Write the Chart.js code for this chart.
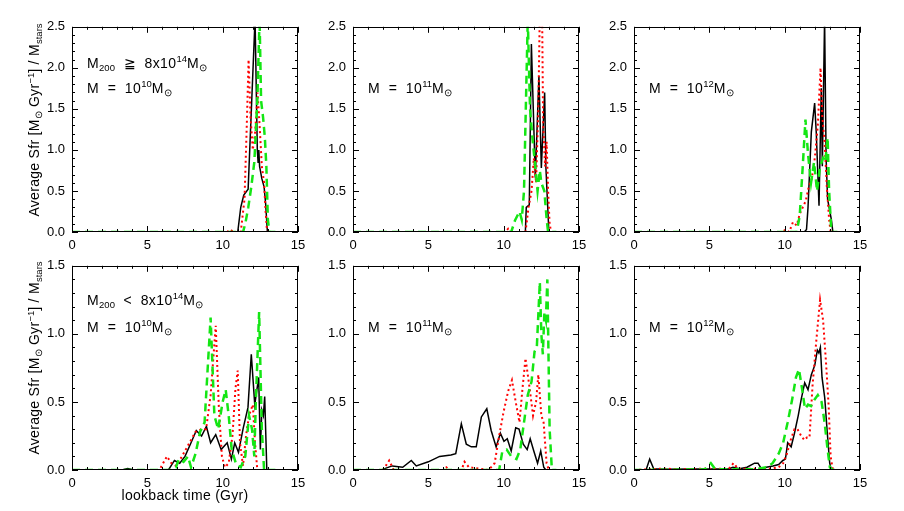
<!DOCTYPE html>
<html>
<head>
<meta charset="utf-8">
<script src="https://cdn.jsdelivr.net/npm/chart.js@4.4.0/dist/chart.umd.min.js"></script>
<style>
  body { margin: 0; background: #fff; }
  #fig { position: relative; width: 904px; height: 511px; overflow: hidden;
         font-family: "Liberation Sans", Arial, sans-serif; color: #000; }
  #fig canvas { position: absolute; }
  .lbl { position: absolute; font-size: 14px; line-height: 1; white-space: nowrap; letter-spacing: 0.4px; }
  .lbl sub, .lbl sup, .ttl sub, .ttl sup { line-height: 0; font-size: 9.5px; letter-spacing: 0; }
  .lbl sub { vertical-align: -3px; }
  .lbl sup { vertical-align: 6px; }
  .ttl { position: absolute; font-size: 14px; line-height: 16px; white-space: nowrap; text-align: center; letter-spacing: 0.3px; }
  .ytl { width: 240px; height: 16px; transform: rotate(-90deg); }
  .ttl sub { vertical-align: -3px; }
  .ttl sup { vertical-align: 5px; }
</style>
</head>
<body>
<div id="fig">
  <canvas id="c1"></canvas><canvas id="c2"></canvas><canvas id="c3"></canvas>
  <canvas id="c4"></canvas><canvas id="c5"></canvas><canvas id="c6"></canvas>

  <div class="ttl ytl" style="left:-86px; top:112px;">Average Sfr [M<sub>⊙</sub> Gyr<sup>−1</sup>] / M<sub>stars</sub></div>
  <div class="ttl ytl" style="left:-86px; top:350px;">Average Sfr [M<sub>⊙</sub> Gyr<sup>−1</sup>] / M<sub>stars</sub></div>
  <div class="ttl" style="left:95px; top:487px; width:180px;">lookback time (Gyr)</div>

  <div class="lbl" style="left:87px; top:56px;">M<sub>200</sub>&nbsp; ≧ &nbsp;8x10<sup>14</sup>M<sub>⊙</sub></div>
  <div class="lbl" style="left:87px; top:81px;">M &nbsp;= &nbsp;10<sup>10</sup>M<sub>⊙</sub></div>
  <div class="lbl" style="left:368px; top:81px;">M &nbsp;= &nbsp;10<sup>11</sup>M<sub>⊙</sub></div>
  <div class="lbl" style="left:649px; top:81px;">M &nbsp;= &nbsp;10<sup>12</sup>M<sub>⊙</sub></div>
  <div class="lbl" style="left:87px; top:293px;">M<sub>200</sub>&nbsp; &lt; &nbsp;8x10<sup>14</sup>M<sub>⊙</sub></div>
  <div class="lbl" style="left:87px; top:320px;">M &nbsp;= &nbsp;10<sup>10</sup>M<sub>⊙</sub></div>
  <div class="lbl" style="left:368px; top:320px;">M &nbsp;= &nbsp;10<sup>11</sup>M<sub>⊙</sub></div>
  <div class="lbl" style="left:649px; top:320px;">M &nbsp;= &nbsp;10<sup>12</sup>M<sub>⊙</sub></div>
</div>
<script>
  // [lookback time (Gyr), average sfr / Mstars]
  // top row: M200 >= 8x10^14 Msun
  var black10hi = [[0,0],[11.0,0],[11.2,0.3],[11.4,0.45],[11.69,0.52],[12.15,2.6],[12.3,1.0],[12.35,0.85],[12.4,1.0],[12.45,0.8],[12.6,0.65],[12.75,0.55],[12.85,0.35],[12.97,0],[13.5,0]];
  var red10hi = [[0,0],[10.3,0],[10.5,0.03],[10.7,0],[11.2,0],[11.45,0.4],[11.6,1.3],[11.72,2.1],[11.85,1.4],[12.0,1.0],[12.15,1.2],[12.32,1.7],[12.45,1.3],[12.6,0.8],[12.75,0.6],[12.85,0.25],[12.95,0],[13.5,0]];
  var green10hi = [[0,0],[11.35,0],[11.5,0.1],[11.7,0.3],[11.9,0.55],[12.1,0.85],[12.3,1.6],[12.45,2.6],[12.55,1.6],[12.68,1.4],[12.8,1.15],[12.9,0.8],[13.0,0.15],[13.1,0],[13.5,0]];

  var black11hi = [[0,0],[11.44,0],[11.5,0.3],[11.7,0.33],[11.84,2.29],[12.1,0.66],[12.34,1.9],[12.5,0.78],[12.72,1.7],[12.8,0.8],[13.0,0],[13.5,0]];
  var red11hi = [[0,0],[10.1,0],[10.3,0.04],[10.5,0],[11.45,0],[11.65,0.3],[11.85,0.5],[12.0,0.9],[12.15,0.6],[12.3,1.5],[12.4,2.7],[12.55,2.7],[12.62,1.3],[12.75,0.8],[12.85,1.1],[12.95,0.5],[13.05,0.1],[13.15,0],[13.5,0]];
  var green11hi = [[0,0],[10.5,0],[10.75,0.14],[11.05,0.25],[11.2,0.15],[11.35,0.5],[11.6,2.6],[11.75,1.5],[11.93,1.1],[12.1,0.8],[12.25,0.5],[12.4,0.75],[12.5,0.6],[12.7,0.5],[12.86,0.14],[12.95,0],[13.5,0]];

  var black12hi = [[0,0],[11.3,0],[11.45,0.03],[11.55,0.3],[11.77,1.22],[11.99,1.57],[12.1,1.2],[12.28,0.32],[12.43,1.75],[12.5,0.8],[12.65,2.6],[12.75,0.9],[12.85,0.4],[13.05,0.2],[13.1,0.15],[13.2,0],[13.5,0]];
  var red12hi = [[0,0],[9.8,0],[10.1,0.03],[10.3,0],[10.55,0.12],[10.8,0.08],[11.0,0.22],[11.2,0.3],[11.4,0.38],[11.6,0.55],[11.8,0.65],[12.0,0.9],[12.2,1.3],[12.38,2.0],[12.5,1.4],[12.65,1.1],[12.8,0.55],[12.95,0.15],[13.05,0],[13.5,0]];
  var green12hi = [[0,0],[10.8,0],[11.0,0.2],[11.2,0.8],[11.38,1.37],[11.55,0.95],[11.75,0.6],[11.95,0.85],[12.15,0.5],[12.35,0.8],[12.55,0.9],[12.7,0.85],[12.85,1.15],[12.95,0.5],[13.1,0],[13.5,0]];

  // bottom row: M200 < 8x10^14 Msun
  var black10lo = [[0,0],[3.3,0],[3.7,0.01],[4.1,0],[6.4,0],[6.8,0.07],[7.15,0.05],[7.5,0.1],[7.9,0.2],[8.25,0.29],[8.6,0.25],[8.92,0.32],[9.2,0.2],[9.54,0.26],[9.9,0.15],[10.3,0.2],[10.58,0.08],[10.8,0.2],[11.05,0.13],[11.35,0.3],[11.68,0.46],[11.9,0.85],[12.13,0.48],[12.39,0.68],[12.5,0.15],[12.6,0.44],[12.7,0.4],[12.79,0.54],[12.93,0],[13.5,0]];
  var red10lo = [[0,0],[5.8,0],[6.3,0.1],[6.6,0.05],[6.9,0.03],[7.3,0.1],[7.8,0.2],[8.2,0.28],[8.6,0.3],[8.9,0.3],[9.2,0.55],[9.54,1.06],[9.75,0.45],[9.95,0.1],[10.15,0.02],[10.4,0.05],[10.65,0.25],[10.85,0.6],[11.0,0.73],[11.15,0.2],[11.35,0.03],[11.55,0.25],[11.75,0.4],[12.0,0.48],[12.15,0.2],[12.3,0],[13.5,0]];
  var green10lo = [[0,0],[6.5,0],[6.9,0.02],[7.1,0.08],[7.4,0.06],[7.7,0.1],[7.9,0.02],[8.2,0.12],[8.5,0.28],[8.8,0.35],[9.2,1.12],[9.45,0.4],[9.7,0.3],[10.0,0.5],[10.2,0.59],[10.4,0.4],[10.6,0.15],[10.9,0.04],[11.2,0.02],[11.5,0.1],[11.75,0.4],[11.95,0.3],[12.1,0.1],[12.2,0.5],[12.42,1.16],[12.6,0.3],[12.75,0],[13.5,0]];

  var black11lo = [[0,0],[1.9,0],[2.1,0.01],[2.6,0.03],[3.3,0.02],[3.87,0.07],[4.2,0.03],[5.0,0.06],[5.75,0.1],[6.5,0.11],[6.82,0.12],[7.19,0.34],[7.52,0.19],[7.85,0.17],[8.18,0.17],[8.52,0.39],[8.88,0.45],[9.17,0.29],[9.5,0.17],[9.78,0.27],[10.02,0.21],[10.24,0.23],[10.5,0.14],[10.8,0.31],[11.02,0.3],[11.3,0.19],[11.56,0.15],[11.76,0.23],[12.0,0.14],[12.25,0.05],[12.46,0.14],[12.66,0.02],[12.8,0],[13.5,0]];
  var red11lo = [[0,0],[2.0,0],[2.4,0.07],[2.7,0],[6.0,0],[6.2,0.02],[6.4,0],[7.2,0],[7.4,0.06],[7.7,0.02],[9.0,0],[9.4,0.05],[9.7,0.25],[10.0,0.43],[10.3,0.58],[10.55,0.66],[10.8,0.5],[11.05,0.35],[11.25,0.6],[11.45,0.82],[11.7,0.62],[11.95,0.4],[12.15,0.5],[12.3,0.7],[12.5,0.4],[12.65,0.35],[12.85,0.05],[13.0,0],[13.5,0]];
  var green11lo = [[0,0],[9.7,0],[9.9,0.13],[10.2,0.15],[10.5,0.1],[10.85,0.08],[11.1,0.15],[11.35,0.35],[11.6,0.55],[11.85,0.65],[12.05,0.87],[12.2,0.9],[12.4,1.38],[12.5,1.0],[12.6,0.85],[12.7,1.15],[12.8,1.1],[12.9,1.4],[13.05,0.3],[13.2,0],[13.5,0]];

  var black12lo = [[0,0],[0.8,0],[1.04,0.08],[1.3,0.01],[2.0,0.005],[6.3,0.01],[6.57,0.02],[7.0,0.01],[7.5,0.02],[8.0,0.05],[8.23,0.05],[8.45,0.01],[8.78,0.02],[9.22,0.03],[9.6,0.04],[9.88,0.07],[10.05,0.08],[10.2,0.2],[10.43,0.17],[10.65,0.27],[10.9,0.4],[11.1,0.52],[11.33,0.64],[11.55,0.59],[11.77,0.7],[12.0,0.77],[12.17,0.88],[12.27,0.86],[12.37,0.9],[12.48,0.68],[12.66,0.53],[12.83,0.27],[12.99,0.05],[13.1,0],[13.5,0]];
  var red12lo = [[0,0],[2.0,0.01],[3.0,0.005],[5.0,0.01],[6.3,0.01],[6.6,0.05],[6.9,0.01],[9.0,0.01],[9.6,0.02],[9.9,0.05],[10.15,0.12],[10.4,0.22],[10.65,0.3],[10.85,0.3],[11.05,0.26],[11.3,0.22],[11.5,0.24],[11.65,0.24],[11.85,0.62],[12.1,0.95],[12.35,1.25],[12.55,1.1],[12.75,0.78],[12.92,0.47],[13.05,0.1],[13.2,0],[13.5,0]];
  var green12lo = [[0,0],[4.7,0.005],[5.1,0.05],[5.4,0.005],[8.0,0.005],[8.8,0.02],[9.2,0.05],[9.6,0.12],[9.9,0.2],[10.2,0.35],[10.5,0.52],[10.75,0.68],[10.95,0.74],[11.15,0.6],[11.35,0.45],[11.55,0.48],[11.75,0.47],[12.0,0.52],[12.2,0.55],[12.45,0.5],[12.65,0.35],[12.85,0.15],[13.0,0.02],[13.2,0],[13.5,0]];

  var xTickMax = 15;
  var yTickMaxTop = 2.5;
  var yTickMaxBottom = 1.5;

  // IDL style box with inward ticks on all four sides
  var idlAxes = {
    id: 'idlAxes',
    afterDatasetsDraw: function (chart) {
      var ctx = chart.ctx, a = chart.chartArea;
      var xs = chart.scales.x, ys = chart.scales.y;
      ctx.save();
      ctx.strokeStyle = '#000';
      ctx.lineWidth = 1;
      ctx.strokeRect(Math.round(a.left) + 0.5, Math.round(a.top) + 0.5,
        Math.round(a.right - a.left) - 1, Math.round(a.bottom - a.top) - 1);
      ctx.beginPath();
      for (var v = 0; v <= xs.max; v += 1) {
        var px = Math.round(xs.getPixelForValue(v)) + 0.5;
        var len = v % 5 === 0 ? 6 : 3;
        ctx.moveTo(px, a.bottom); ctx.lineTo(px, a.bottom - len);
        ctx.moveTo(px, a.top); ctx.lineTo(px, a.top + len);
      }
      var n = Math.round(ys.max * 10);
      for (var i = 0; i <= n; i++) {
        var py = Math.round(ys.getPixelForValue(i / 10)) + 0.5;
        var l = i % 5 === 0 ? 6 : 3;
        ctx.moveTo(a.left, py); ctx.lineTo(a.left + l, py);
        ctx.moveTo(a.right, py); ctx.lineTo(a.right - l, py);
      }
      ctx.stroke();
      ctx.restore();
    }
  };

  function toXY(arr) {
    return arr.map(function (p) { return { x: p[0], y: p[1] }; });
  }

  var PAD_L = 45, PAD_T = 12, PAD_R = 14, PAD_B = 24;

  function makePanel(id, left, top, w, h, ymax, black, red, green) {
    var cv = document.getElementById(id);
    var cw = w + PAD_L + PAD_R, ch = h + PAD_T + PAD_B;
    cv.width = cw; cv.height = ch;
    cv.style.left = (left - PAD_L) + 'px';
    cv.style.top = (top - PAD_T) + 'px';
    cv.style.width = cw + 'px';
    cv.style.height = ch + 'px';
    var font = { family: '"Liberation Sans", Arial, sans-serif', size: 13 };

    return new Chart(cv.getContext('2d'), {
      type: 'line',
      data: {
        datasets: [
          { data: toXY(green), borderColor: '#14e614', borderWidth: 2.5, borderDash: [8, 5] },
          { data: toXY(red), borderColor: '#ff0000', borderWidth: 2, borderDash: [2, 3] },
          { data: toXY(black), borderColor: '#000000', borderWidth: 1.5 }
        ]
      },
      options: {
        responsive: false,
        animation: false,
        devicePixelRatio: 1,
        parsing: false,
        elements: { point: { radius: 0 }, line: { tension: 0, fill: false } },
        layout: { padding: { top: PAD_T, right: PAD_R, left: 0, bottom: 0 } },
        plugins: { legend: { display: false }, tooltip: { enabled: false } },
        scales: {
          x: {
            type: 'linear', min: 0, max: xTickMax,
            grid: { display: false, drawTicks: false }, border: { display: false },
            ticks: { stepSize: 5, color: '#000', font: font, padding: 6, maxRotation: 0 },
            afterFit: function (s) { s.height = PAD_B; }
          },
          y: {
            type: 'linear', min: 0, max: ymax,
            grid: { display: false, drawTicks: false }, border: { display: false },
            ticks: { stepSize: 0.5, color: '#000', font: font, padding: 7,
              callback: function (v) { return v.toFixed(1); } },
            afterFit: function (s) { s.width = PAD_L; }
          }
        }
      },
      plugins: [idlAxes]
    });
  }

  makePanel('c1', 72, 24, 226, 208, yTickMaxTop, black10hi, red10hi, green10hi);
  makePanel('c2', 353, 24, 226, 208, yTickMaxTop, black11hi, red11hi, green11hi);
  makePanel('c3', 634, 24, 226, 208, yTickMaxTop, black12hi, red12hi, green12hi);
  makePanel('c4', 72, 263, 226, 207, yTickMaxBottom, black10lo, red10lo, green10lo);
  makePanel('c5', 353, 263, 226, 207, yTickMaxBottom, black11lo, red11lo, green11lo);
  makePanel('c6', 634, 263, 226, 207, yTickMaxBottom, black12lo, red12lo, green12lo);
</script>
</body>
</html>
